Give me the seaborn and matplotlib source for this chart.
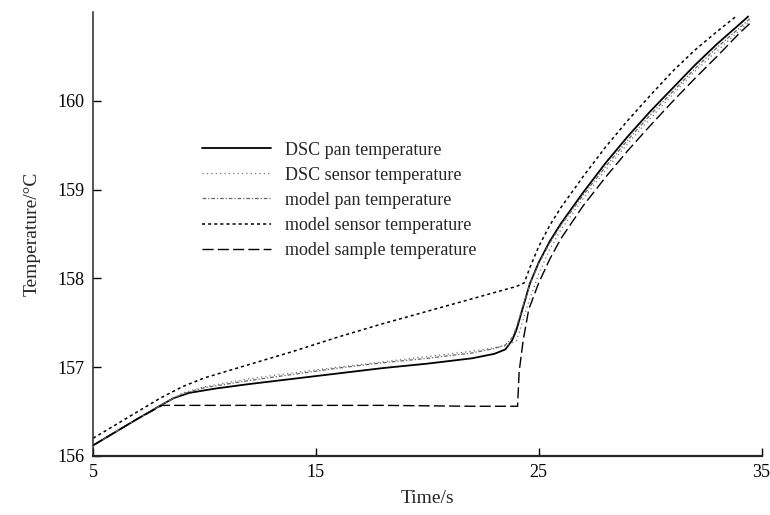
import matplotlib
matplotlib.use("Agg")
import matplotlib.pyplot as plt
import seaborn as sns

# data
time_dsc_pan = [5, 6, 7, 8.1, 8.6, 9.3, 10.5, 12, 14, 16, 18, 20, 22, 23, 23.5, 23.8,
                24.0, 24.3, 24.6, 25.0, 25.5, 26, 27, 28, 29, 30, 31, 32, 33, 34, 34.4]
dsc_pan = [156.12, 156.27, 156.42, 156.58, 156.65, 156.71, 156.76, 156.81, 156.87, 156.93,
           156.99, 157.04, 157.1, 157.15, 157.2, 157.3, 157.42, 157.68, 157.94, 158.18,
           158.42, 158.62, 158.97, 159.3, 159.6, 159.88, 160.14, 160.4, 160.64, 160.86, 160.95]

time_dsc_sensor = [5, 6, 7, 8.1, 9, 10, 12, 15, 18, 20, 22, 23, 23.5, 24.0, 24.2, 24.5,
                   25, 25.5, 26, 27, 28, 29, 30, 31, 32, 33, 34, 34.5]
dsc_sensor = [156.12, 156.27, 156.42, 156.58, 156.71, 156.78, 156.87, 156.97, 157.06, 157.12,
              157.18, 157.22, 157.24, 157.3, 157.45, 157.7, 158.05, 158.33, 158.55, 158.9,
              159.22, 159.52, 159.8, 160.07, 160.33, 160.56, 160.79, 160.9]

time_model_pan = [5, 6, 7, 8.1, 9, 10, 12, 14, 16, 18, 20, 22, 23, 23.5, 23.8, 24.0, 24.3,
                  24.6, 25, 25.5, 26, 27, 28, 29, 30, 31, 32, 33, 34, 34.5]
model_pan = [156.12, 156.27, 156.42, 156.58, 156.7, 156.77, 156.85, 156.92, 156.99, 157.05,
             157.1, 157.16, 157.21, 157.25, 157.33, 157.45, 157.7, 157.93, 158.17, 158.4,
             158.6, 158.94, 159.26, 159.56, 159.84, 160.1, 160.36, 160.6, 160.82, 160.93]

time_model_sensor = [5, 6, 7, 8, 9, 10, 12, 14, 16, 18, 20, 22, 23, 24, 24.35, 24.6, 25,
                     25.5, 26, 27, 28, 29, 30, 31, 32, 33, 33.9]
model_sensor = [156.2, 156.35, 156.5, 156.65, 156.78, 156.88, 157.03, 157.18, 157.34, 157.49,
                157.63, 157.77, 157.84, 157.91, 157.95, 158.12, 158.36, 158.6, 158.8, 159.15,
                159.48, 159.78, 160.06, 160.33, 160.57, 160.78, 160.96]

time_model_sample = [5, 6, 7, 8.1, 10, 14, 18, 22, 24.05, 24.12, 24.3, 24.55, 25, 25.5, 26,
                     27, 28, 29, 30, 31, 32, 33, 34, 34.6]
model_sample = [156.12, 156.27, 156.42, 156.57, 156.57, 156.57, 156.57, 156.56, 156.56,
                156.95, 157.3, 157.65, 157.95, 158.22, 158.45, 158.82, 159.14, 159.44,
                159.72, 159.99, 160.25, 160.5, 160.76, 160.9]

x_ticks = [5, 15, 25, 35]
y_ticks = [156, 157, 158, 159, 160]

sns.set_style("ticks")
plt.rcParams['font.family'] = ['Liberation Serif', 'DejaVu Serif']

fig = plt.figure(figsize=(7.7, 5.15), dpi=100)
ax = fig.add_axes([0.121, 0.1146, 0.868, 0.862])

series = [
    (time_dsc_pan, dsc_pan, "DSC pan temperature", "black", "-", 1.3),
    (time_dsc_sensor, dsc_sensor, "DSC sensor temperature", "#777777", (0, (1, 2.5)), 0.9),
    (time_model_pan, model_pan, "model pan temperature", "#666666", (0, (3, 1.5, 1, 1.5)), 0.9),
    (time_model_sensor, model_sensor, "model sensor temperature", "black", (0, (2, 2)), 1.1),
    (time_model_sample, model_sample, "model sample temperature", "black", (0, (8, 3)), 1.0),
]
for t, v, name, col, ls, lw in series:
    sns.lineplot(x=t, y=v, ax=ax, color=col, linestyle=ls, linewidth=lw,
                 label=name, sort=False, estimator=None)

ax.set_xlim(5, 35)
ax.set_ylim(156, 161)
ax.set_xticks(x_ticks)
ax.set_yticks(y_ticks)
ax.tick_params(direction="in", length=6, width=1, labelsize=13, colors="black", pad=6)
sns.despine(ax=ax)
ax.spines['left'].set_linewidth(1.1)
ax.spines['bottom'].set_linewidth(1.6)

ax.set_xlabel("Time/s", fontsize=14, labelpad=6)
ax.set_ylabel("Temperature/°C", fontsize=14, labelpad=12)

leg = ax.legend(loc="upper left", bbox_to_anchor=(0.139, 0.745), frameon=False,
                fontsize=13, handlelength=3.8, handletextpad=0.8, labelspacing=0.45)

fig.savefig("out.png", dpi=100)
